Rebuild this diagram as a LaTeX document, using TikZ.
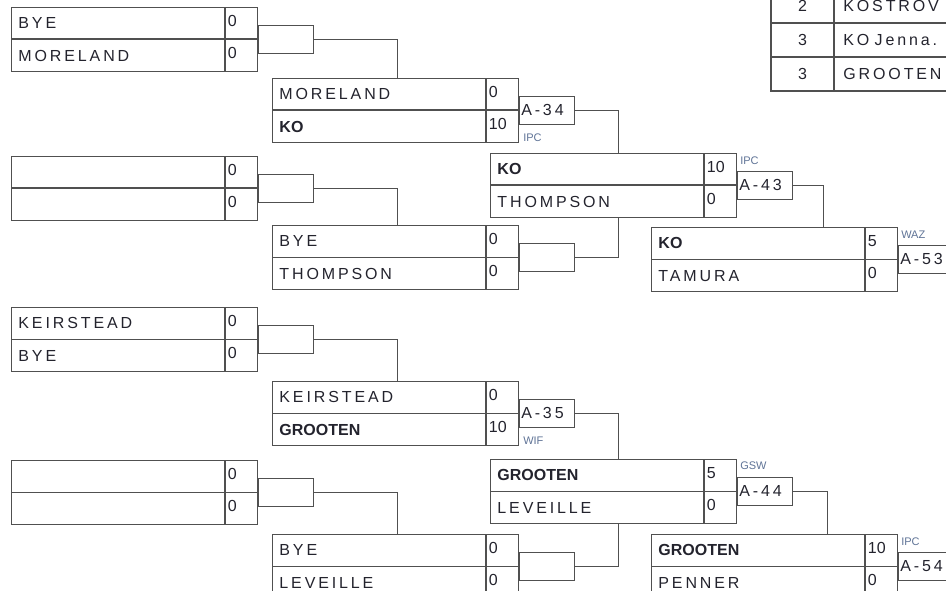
\documentclass[tikz,border=0pt]{standalone}
\usepackage{fontspec}
\setmainfont{Liberation Sans}
\newfontfamily\spfont[LetterSpace=18]{Liberation Sans}
\usepackage{tikz}
\usetikzlibrary{positioning}

\definecolor{inkc}{RGB}{35,35,45}
\definecolor{rulec}{RGB}{80,80,80}
\definecolor{tagc}{RGB}{95,115,150}

\newcommand{\win}[1]{{\rmfamily\bfseries #1}}
\newcommand{\bout}[7]{%
  \node[slot] (#1a) at (#2,#3) {#4};
  \node[pts] (#1as) at (#1a.north east) {#5};
  \node[slot] (#1b) at (#1a.south west) {#6};
  \node[pts] (#1bs) at (#1b.north east) {#7};}

\begin{document}
\begin{tikzpicture}[x=1pt, y=-1pt, line width=0.9pt,
  every node/.style={text=inkc, font=\spfont\fontsize{16}{18}\selectfont},
  slot/.style={draw=rulec, anchor=north west, minimum width=213pt,
    minimum height=31.5pt, inner xsep=7pt, inner ysep=0pt,
    text width=199pt, align=left},
  pts/.style={draw=rulec, anchor=north west, minimum width=32pt,
    minimum height=31.5pt, inner xsep=2.5pt, inner ysep=0pt,
    text width=27pt, align=left, text depth=5pt,
    font=\rmfamily\fontsize{16}{18}\selectfont},
  brk/.style={draw=rulec, anchor=west, minimum width=55pt,
    minimum height=27.5pt, inner xsep=2pt, inner ysep=0pt,
    text width=51pt, align=left},
  tag/.style={text=tagc, inner sep=0pt,
    font=\rmfamily\fontsize{11}{12}\selectfont},
  cell/.style={draw=rulec, anchor=north west, minimum height=33pt,
    inner ysep=0pt},
  link/.style={draw=rulec}]

  \useasboundingbox (0,0) rectangle (946,591);
  \clip (0,0) rectangle (946,591);

  \bout{ma}{11}{7}{BYE}{0}{MORELAND}{0}
  \bout{mb}{11}{156}{}{0}{}{0}
  \bout{mc}{11}{307}{KEIRSTEAD}{0}{BYE}{0}
  \bout{md}{11}{460}{}{0}{}{0}

  \bout{qa}{272}{78}{MORELAND}{0}{\win{KO}}{10}
  \bout{qb}{272}{225}{BYE}{0}{THOMPSON}{0}
  \bout{qc}{272}{381}{KEIRSTEAD}{0}{\win{GROOTEN}}{10}
  \bout{qd}{272}{534}{BYE}{0}{LEVEILLE}{0}

  \bout{sa}{490}{153}{\win{KO}}{10}{THOMPSON}{0}
  \bout{sb}{490}{459}{\win{GROOTEN}}{5}{LEVEILLE}{0}

  \bout{fa}{651}{227}{\win{KO}}{5}{TAMURA}{0}
  \bout{fb}{651}{534}{\win{GROOTEN}}{10}{PENNER}{0}

  \node[brk] (ka) at (maas.south east) {};
  \node[brk] (kb) at (mbas.south east) {};
  \node[brk] (kc) at (mcas.south east) {};
  \node[brk] (kd) at (mdas.south east) {};
  \node[brk] (a34) at (qaas.south east) {A-34};
  \node[brk] (kqb) at (qbas.south east) {};
  \node[brk] (a35) at (qcas.south east) {A-35};
  \node[brk] (kqd) at (qdas.south east) {};
  \node[brk] (a43) at (saas.south east) {A-43};
  \node[brk] (a44) at (sbas.south east) {A-44};
  \node[brk] (a53) at (faas.south east) {A-53};
  \node[brk] (a54) at (fbas.south east) {A-54};

  \node[tag, anchor=north west] (g34) at ([xshift=4pt, yshift=-9pt]a34.south west) {IPC};
  \node[tag, anchor=north west] (g35) at ([xshift=4pt, yshift=-9pt]a35.south west) {WIF};
  \node[tag, anchor=south west] (g43) at ([xshift=3pt, yshift=6pt]a43.north west) {IPC};
  \node[tag, anchor=south west] (g44) at ([xshift=3pt, yshift=7pt]a44.north west) {GSW};
  \node[tag, anchor=south west] (g53) at ([xshift=3pt, yshift=6pt]a53.north west) {WAZ};
  \node[tag, anchor=south west] (g54) at ([xshift=3pt, yshift=6pt]a54.north west) {IPC};

  \draw[link] (ka.east) -| ([xshift=125pt]qaa.north west);
  \draw[link] (kb.east) -| ([xshift=125pt]qba.north west);
  \draw[link] (kc.east) -| ([xshift=125pt]qca.north west);
  \draw[link] (kd.east) -| ([xshift=125pt]qda.north west);
  \draw[link] (a34.east) -| ([xshift=128pt]saa.north west);
  \draw[link] (kqb.east) -| ([xshift=128pt]sab.south west);
  \draw[link] (a35.east) -| ([xshift=128pt]sba.north west);
  \draw[link] (kqd.east) -| ([xshift=128pt]sbb.south west);
  \draw[link] (a43.east) -| ([xshift=172pt]faa.north west);
  \draw[link] (a44.east) -| ([xshift=176pt]fba.north west);

  \node[cell, minimum width=62pt] (rk1) at (771,-11) {2};
  \node[cell, minimum width=140pt, text width=122pt, inner xsep=9pt,
    align=left] (nm1) at (rk1.north east) {KOSTROV};
  \node[cell, minimum width=62pt] (rk2) at (rk1.south west) {3};
  \node[cell, minimum width=140pt, text width=122pt, inner xsep=9pt,
    align=left] (nm2) at (rk2.north east) {KO Jenna.};
  \node[cell, minimum width=62pt] (rk3) at (rk2.south west) {3};
  \node[cell, minimum width=140pt, text width=122pt, inner xsep=9pt,
    align=left] (nm3) at (rk3.north east) {GROOTEN};
  \draw[rulec, line width=1.8pt] (rk1.north west) |- (nm3.south east);
\end{tikzpicture}
\end{document}
